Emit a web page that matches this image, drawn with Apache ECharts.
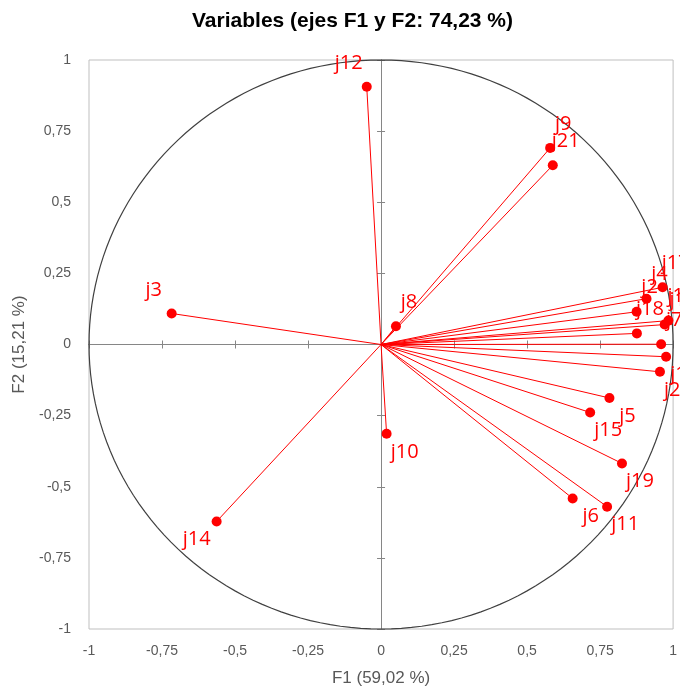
<!DOCTYPE html>
<html>
<head>
<meta charset="utf-8">
<title>Variables (ejes F1 y F2)</title>
<script src="https://cdn.jsdelivr.net/npm/echarts@6/dist/echarts.min.js"></script>
<style>
  html, body { margin: 0; padding: 0; background: #fff; }
  #chart { width: 680px; height: 693px; }
</style>
</head>
<body>
<div id="chart"></div>
<script>
// variable loadings on the first two factors
var varNames = ['j1', 'j2', 'j3', 'j4', 'j5', 'j6', 'j7', 'j8', 'j9', 'j10', 'j11',
                'j12', 'j13', 'j14', 'j15', 'j16', 'j17', 'j18', 'j19', 'j20', 'j21'];
var f1Values = [0.971, 0.875, -0.717, 0.909, 0.782, 0.656, 0.959, 0.051, 0.579, 0.019, 0.774,
                -0.049, 0.984, -0.563, 0.716, 0.976, 0.964, 0.876, 0.825, 0.955, 0.588];
var f2Values = [0.070, 0.115, 0.109, 0.161, -0.188, -0.541, 0.001, 0.064, 0.691, -0.314, -0.570,
                0.906, 0.084, -0.622, -0.239, -0.043, 0.201, 0.039, -0.418, -0.096, 0.630];
var axisTicks = [-1, -0.75, -0.5, -0.25, 0, 0.25, 0.5, 0.75, 1];

var titleText = 'Variables (ejes F1 y F2: 74,23 %)';
var xName = 'F1 (59,02 %)';
var yName = 'F2 (15,21 %)';

var red = '#ff0000';
var grayText = '#595959';

function fmt(v) {
  return String(v).replace('.', ',');
}

var points = varNames.map(function (n, i) {
  return { name: n, value: [f1Values[i], f2Values[i]] };
});

// labels sit outward from the origin, like the spreadsheet default
function labelShift(x, y) {
  if (y >= 0) return x >= 0 ? [13, -24] : [-18, -23];
  return x >= 0 ? [18, 18] : [-20, 18];
}

var tickMin = axisTicks[0], tickMax = axisTicks[axisTicks.length - 1];
var tickStep = axisTicks[1] - axisTicks[0];

function baseAxis(pos) {
  return {
    type: 'value', position: pos, min: tickMin, max: tickMax, interval: tickStep,
    splitLine: { show: false }
  };
}

function labelAxis(pos, isX) {
  var a = baseAxis(pos);
  a.axisLine = { show: false, onZero: false };
  a.axisTick = { show: false };
  a.axisLabel = {
    formatter: fmt, color: grayText, fontSize: 14, fontFamily: 'Liberation Sans',
    margin: isX ? 15 : 18
  };
  a.name = isX ? xName : yName;
  a.nameLocation = 'middle';
  a.nameGap = isX ? 41 : 53;
  a.nameTextStyle = { color: grayText, fontSize: 17, fontFamily: 'Liberation Sans' };
  return a;
}

function zeroAxis(pos, inside) {
  var a = baseAxis(pos);
  a.axisLine = { show: true, onZero: true, lineStyle: { color: '#868686', width: 1 } };
  a.axisTick = { show: true, inside: inside, length: 4, lineStyle: { color: '#868686' } };
  a.axisLabel = { show: false };
  return a;
}

var chart = echarts.init(document.getElementById('chart'), null, { renderer: 'canvas' });

chart.setOption({
  animation: false,
  backgroundColor: '#fff',
  title: {
    text: titleText, left: 187, top: 6,
    textStyle: { fontSize: 21, fontWeight: 'bold', color: '#000', fontFamily: 'Liberation Sans' }
  },
  grid: {
    left: 89, right: 6, top: 60, bottom: 64,
    show: true, borderColor: '#bfbfbf', borderWidth: 1, backgroundColor: 'transparent'
  },
  xAxis: [labelAxis('bottom', true), zeroAxis('bottom', false), zeroAxis('bottom', true)],
  yAxis: [labelAxis('left', false), zeroAxis('left', false), zeroAxis('left', true)],
  series: [
    {
      name: 'circle', type: 'custom', silent: true, z: 1,
      data: [[0, 0]],
      renderItem: function (params, api) {
        var pts = [];
        for (var k = 0; k <= 360; k += 2) {
          var t = k * Math.PI / 180;
          pts.push(api.coord([Math.cos(t), Math.sin(t)]));
        }
        return {
          type: 'polyline', shape: { points: pts },
          style: { stroke: '#404040', lineWidth: 1.2, fill: null }
        };
      }
    },
    {
      name: 'vectors', type: 'custom', silent: true, z: 2,
      data: points.map(function (p) { return p.value; }),
      renderItem: function (params, api) {
        var o = api.coord([0, 0]);
        var p = api.coord([api.value(0), api.value(1)]);
        return {
          type: 'line', shape: { x1: o[0], y1: o[1], x2: p[0], y2: p[1] },
          style: { stroke: red, lineWidth: 1 }
        };
      }
    },
    {
      name: 'variables', type: 'scatter', z: 3,
      symbol: 'circle', symbolSize: 10,
      itemStyle: { color: red, opacity: 1 },
      data: points,
      label: {
        show: true, position: 'inside', formatter: '{b}',
        color: red, fontSize: 20, fontFamily: 'Open Sans',
        align: 'center', verticalAlign: 'middle'
      },
      labelLayout: function (params) {
        var i = params.dataIndex;
        var s = labelShift(f1Values[i], f2Values[i]);
        return { dx: s[0], dy: s[1], hideOverlap: false };
      }
    }
  ]
});
</script>
</body>
</html>
